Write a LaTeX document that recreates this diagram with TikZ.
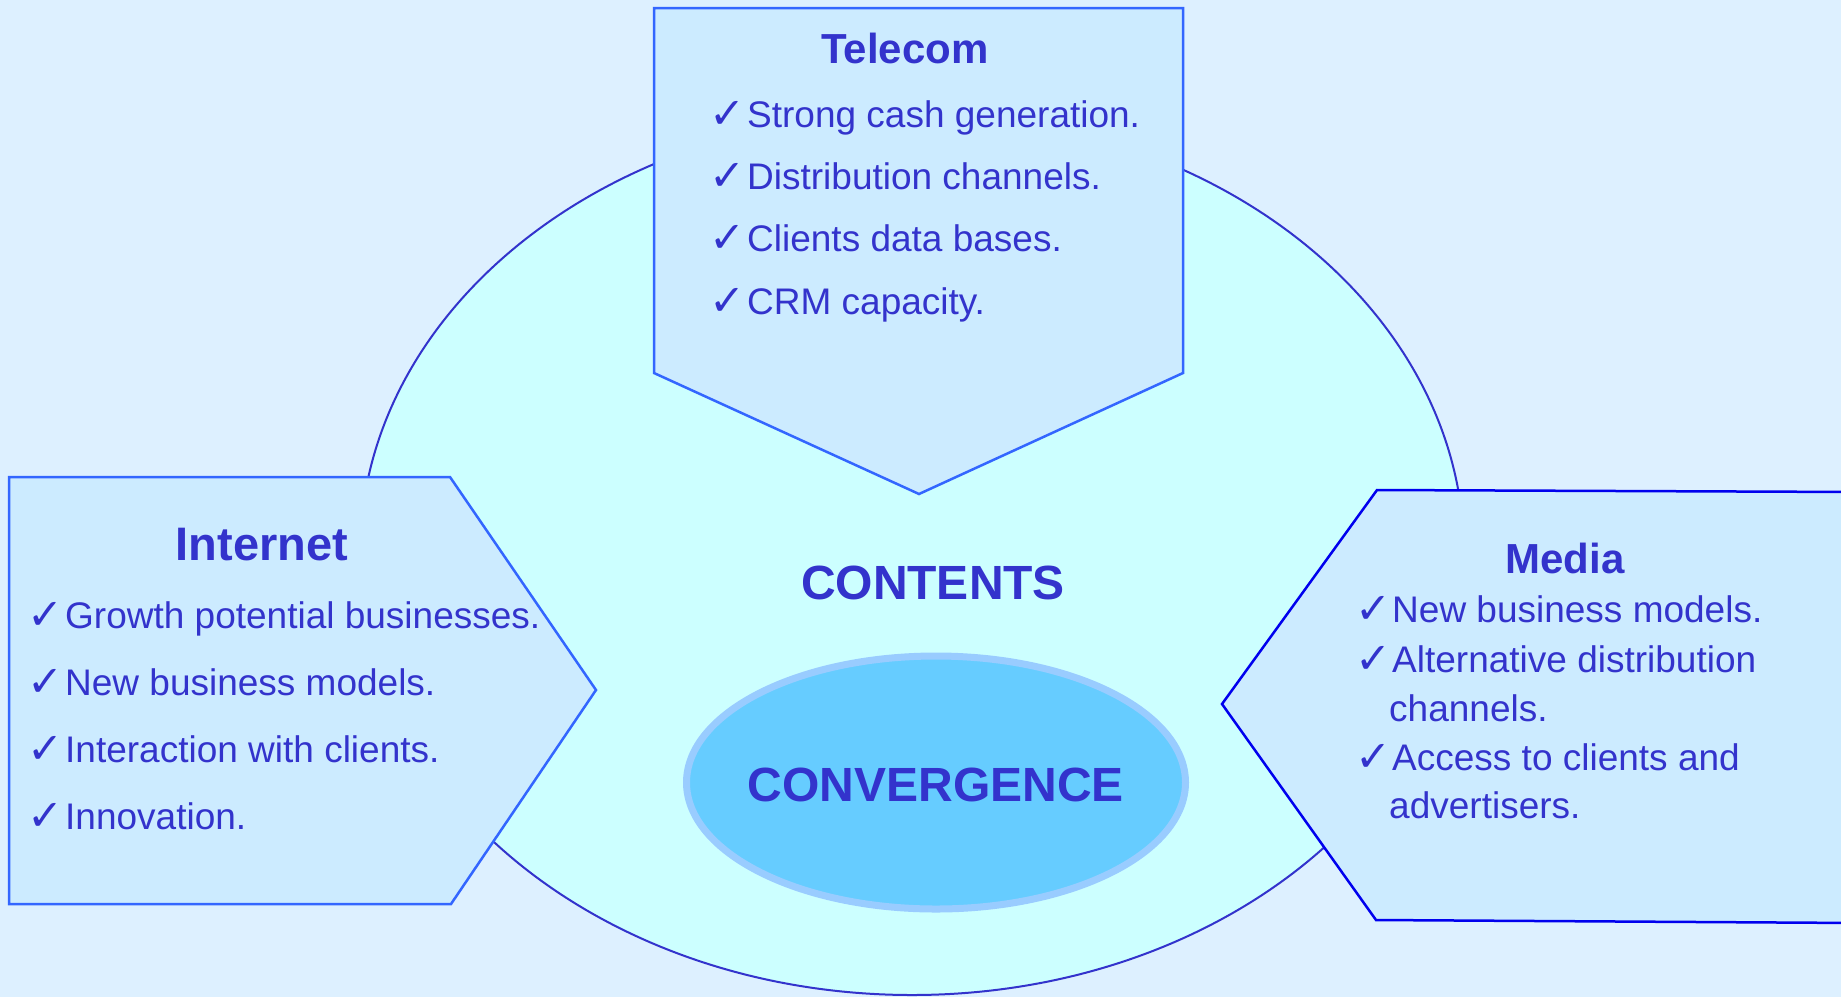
\documentclass[tikz,border=0pt]{standalone}
\usepackage{fontspec}
\setmainfont{Liberation Sans}
\newfontfamily\symfont{DejaVu Sans}
\definecolor{bg}{HTML}{DDF0FF}
\definecolor{oval}{HTML}{CCFFFF}
\definecolor{ovalline}{HTML}{3333CC}
\definecolor{boxfill}{HTML}{CCEBFF}
\definecolor{boxline}{HTML}{3366FF}
\definecolor{medialine}{HTML}{0000EE}
\definecolor{txt}{HTML}{3333CC}
\definecolor{convfill}{HTML}{66CCFF}
\definecolor{convline}{HTML}{99CCFF}
\begin{document}
\begin{tikzpicture}[x=1pt,y=-1pt,
 title/.style={font=\fontsize{42}{50}\selectfont\bfseries, text=txt, inner sep=0, anchor=base},
 bigtitle/.style={font=\fontsize{48}{56}\selectfont\bfseries, text=txt, inner sep=0, anchor=base},
 item/.style={font=\fontsize{37}{44}\selectfont, text=txt, anchor=base west, inner sep=0},
 tick/.style={font=\symfont\bfseries\fontsize{43}{50}\selectfont, text=txt, anchor=base west, inner sep=0},
 box/.style={fill=boxfill, draw=boxline, line width=2.5pt, line join=miter}]
\fill[bg] (0,0) rectangle (1841,997);
\useasboundingbox (0,0) rectangle (1841,997);
% large oval
\draw[fill=oval, draw=ovalline, line width=2pt] (912,554) ellipse [x radius=552, y radius=441];
% Telecom box
\draw[box] (654,8) -- (1183,8) -- (1183,373) -- (919,494) -- (654,373) -- cycle;
% Internet box
\draw[box] (9,477) -- (450,477) -- (596,690) -- (451,904) -- (9,904) -- cycle;
% Media box
\draw[box, draw=medialine] (1860,492) -- (1377,490) -- (1222,704) -- (1376,920) -- (1860,923) -- cycle;
% Convergence oval
\draw[fill=convfill, draw=convline, line width=7pt] (936,782.5) ellipse [x radius=249.5, y radius=126.5];

% Telecom texts
\node[title] (tt) at (905,63) {Telecom};
\node[tick] (tc1) at (709,128) {✓};
\node[item] (t1) at (747,127) {Strong cash generation.};
\node[tick] (tc2) at (709,190) {✓};
\node[item] (t2) at (747,189) {Distribution channels.};
\node[tick] (tc3) at (709,252) {✓};
\node[item] (t3) at (747,251) {Clients data bases.};
\node[tick] (tc4) at (709,315) {✓};
\node[item] (t4) at (747,314) {CRM capacity.};

% Internet texts
\node[title, font=\fontsize{47}{56}\selectfont\bfseries] (it) at (262,560) {Internet};
\node[tick] (ic1) at (27,629) {✓};
\node[item] (i1) at (65,628) {Growth potential businesses.};
\node[tick] (ic2) at (27,696) {✓};
\node[item] (i2) at (65,695) {New business models.};
\node[tick] (ic3) at (27,763) {✓};
\node[item] (i3) at (65,762) {Interaction with clients.};
\node[tick] (ic4) at (27,830) {✓};
\node[item] (i4) at (65,829) {Innovation.};

% Media texts
\node[title] (mt) at (1565,573) {Media};
\node[tick] (mc1) at (1355,623) {✓};
\node[item] (m1) at (1392,622) {New business models.};
\node[tick] (mc2) at (1355,673) {✓};
\node[item] (m2) at (1392,672) {Alternative distribution};
\node[item] (m2b) at (1389,721) {channels.};
\node[tick] (mc3) at (1355,771) {✓};
\node[item] (m3) at (1392,770) {Access to clients and};
\node[item] (m3b) at (1389,818) {advertisers.};

% Centre texts
\node[bigtitle] (contents) at (933,599) {CONTENTS};
\node[bigtitle] (conv) at (936,801) {CONVERGENCE};
\end{tikzpicture}
\end{document}
